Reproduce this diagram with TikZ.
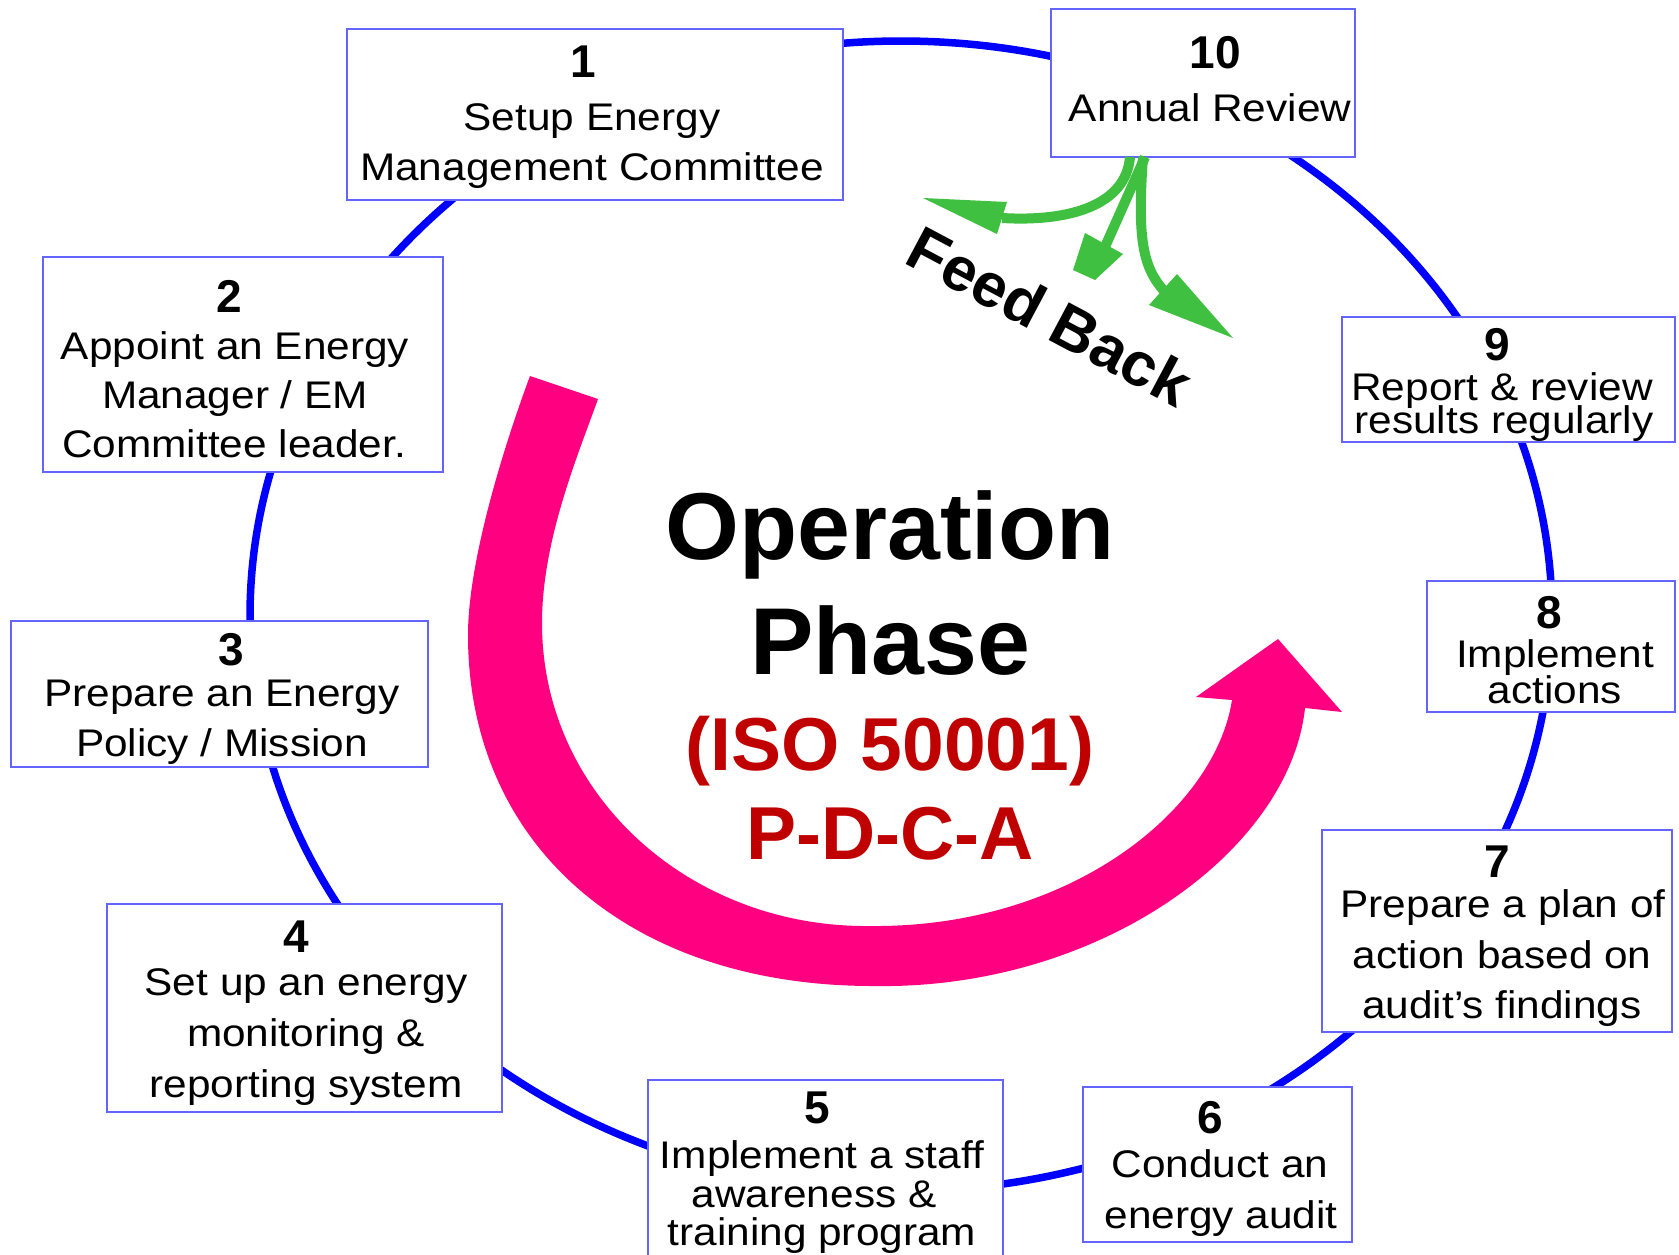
\documentclass[tikz,border=0pt]{standalone}
\usepackage{fontspec}
\setmainfont{Liberation Sans}
\newfontfamily\boxfont{Liberation Sans}[FakeStretch=1.1]
\definecolor{ringblue}{RGB}{0,0,255}
\definecolor{boxblue}{RGB}{100,100,255}
\definecolor{pdcapink}{RGB}{255,0,128}
\definecolor{fbgreen}{RGB}{64,192,64}
\definecolor{isored}{RGB}{192,0,0}
\begin{document}
\begin{tikzpicture}[x=1pt,y=-1pt,
  box/.style={draw=boxblue,line width=1.5pt,fill=white,rectangle,inner sep=0pt,outer sep=0pt},
  numtxt/.style={anchor=base,inner sep=0pt,font=\bfseries\fontsize{46}{50}\selectfont},
  linetxt/.style={anchor=base,inner sep=0pt,font=\boxfont\fontsize{38.5}{44}\selectfont},
  bigtxt/.style={anchor=base,inner sep=0pt,font=\bfseries\fontsize{95}{100}\selectfont},
  isotxt/.style={anchor=base,inner sep=0pt,text=isored,font=\bfseries\fontsize{75}{80}\selectfont},
  ringline/.style={draw=ringblue,line width=7.5pt},
  fbshaft/.style={draw=fbgreen,line width=10pt},
  fbhead/.style={fill=fbgreen}]
\useasboundingbox (0,0) rectangle (1679,1254);
\clip (0,0) rectangle (1679,1254);
\fill[white] (0,0) rectangle (1679,1254);

% ring
\draw[ringline] (901,616) ellipse [x radius=651pt, y radius=575pt];

% PDCA arrow
\fill[pdcapink] (530,376) .. controls (505,443) and (468,560) .. (468,635)
  .. controls (468,846) and (630,986) .. (873,986)
  .. controls (1100,990) and (1290,850) .. (1305,708)
  -- (1342,712) -- (1278,639) -- (1196,697) -- (1232,700)
  .. controls (1215,810) and (1070,928) .. (870,926)
  .. controls (690,928) and (542,795) .. (542,623)
  .. controls (542,540) and (578,455) .. (598,399)
  -- cycle;

% boxes
\node[box,minimum width=496pt,minimum height=171pt] (b1) at (595,114.5) {};
\node[box,minimum width=304pt,minimum height=148pt] (b10) at (1203,83) {};
\node[box,minimum width=400pt,minimum height=215pt] (b2) at (243,364.5) {};
\node[box,minimum width=417pt,minimum height=146pt] (b3) at (219.5,694) {};
\node[box,minimum width=395pt,minimum height=208pt] (b4) at (304.5,1008) {};
\node[box,minimum width=355pt,minimum height=190pt] (b5) at (825.5,1175) {};
\node[box,minimum width=269pt,minimum height=155pt] (b6) at (1217.5,1164.5) {};
\node[box,minimum width=350pt,minimum height=202pt] (b7) at (1497,931) {};
\node[box,minimum width=248pt,minimum height=131pt] (b8) at (1551,646.5) {};
\node[box,minimum width=333pt,minimum height=125pt] (b9) at (1508.5,379.5) {};

% feedback arrows
\coordinate (gA0) at (1130,157);
\coordinate (gA1) at (1002,218);
\coordinate (gB0) at (1145,157);
\coordinate (gB1) at (1100,258);
\coordinate (gC0) at (1143,157);
\coordinate (gC1) at (1165,292);
\draw[fbshaft] (gA0) .. controls (1126,205) and (1070,222) .. (gA1);
\fill[fbhead] (923,198) -- (1007,202) -- (997,234) -- cycle;
\draw[fbshaft] (gB0) -- (gB1);
\fill[fbhead] (1085,233) -- (1123,254) -- (1095,280) -- (1073,270) -- cycle;
\draw[fbshaft] (gC0) .. controls (1137,240) and (1143,268) .. (gC1);
\fill[fbhead] (1149,305) -- (1177,274) -- (1233,338) -- cycle;
\node[inner sep=0pt,rotate=-28,font=\bfseries\fontsize{62}{66}\selectfont] (fb) at (1050,316) {Feed Back};

% centre title
\node[bigtxt] (op) at (890,559) {Operation};
\node[bigtxt] (ph) at (890,674) {Phase};
\node[isotxt] (iso) at (890,770) {(ISO 50001)};
\node[isotxt] (pdca) at (890,859) {P-D-C-A};

% box texts
\node[numtxt] (n1) at (583,77) {1};
\node[linetxt] (t1a) at (592,130) {Setup Energy};
\node[linetxt] (t1b) at (592,180) {Management Committee};

\node[numtxt] (n10) at (1215,68) {10};
\node[linetxt] (t10a) at (1210,121) {Annual Review};

\node[numtxt] (n2) at (229,312) {2};
\node[linetxt] (t2a) at (235,359) {Appoint an Energy};
\node[linetxt] (t2b) at (235,408) {Manager / EM};
\node[linetxt] (t2c) at (234,457) {Committee leader.};

\node[numtxt] (n3) at (231,665) {3};
\node[linetxt] (t3a) at (222,706) {Prepare an Energy};
\node[linetxt] (t3b) at (222,756) {Policy / Mission};

\node[numtxt] (n4) at (296,952) {4};
\node[linetxt] (t4a) at (306,995) {Set up an energy};
\node[linetxt] (t4b) at (306,1046) {monitoring \&};
\node[linetxt] (t4c) at (306,1097) {reporting system};

\node[numtxt] (n5) at (817,1123) {5};
\node[linetxt] (t5a) at (822,1168) {Implement a staff};
\node[linetxt] (t5b) at (814,1207) {awareness \&};
\node[linetxt] (t5c) at (822,1245) {training program};

\node[numtxt] (n6) at (1210,1133) {6};
\node[linetxt] (t6a) at (1220,1177) {Conduct an};
\node[linetxt] (t6b) at (1221,1228) {energy audit};

\node[numtxt] (n7) at (1497,877) {7};
\node[linetxt] (t7a) at (1503,917) {Prepare a plan of};
\node[linetxt] (t7b) at (1502,968) {action based on};
\node[linetxt] (t7c) at (1502,1018) {audit’s findings};

\node[numtxt] (n8) at (1549,628) {8};
\node[linetxt] (t8a) at (1555,667) {Implement};
\node[linetxt] (t8b) at (1555,703) {actions};

\node[numtxt] (n9) at (1497,360) {9};
\node[linetxt] (t9a) at (1502,400) {Report \& review};
\node[linetxt] (t9b) at (1504,433) {results regularly};
\end{tikzpicture}
\end{document}
